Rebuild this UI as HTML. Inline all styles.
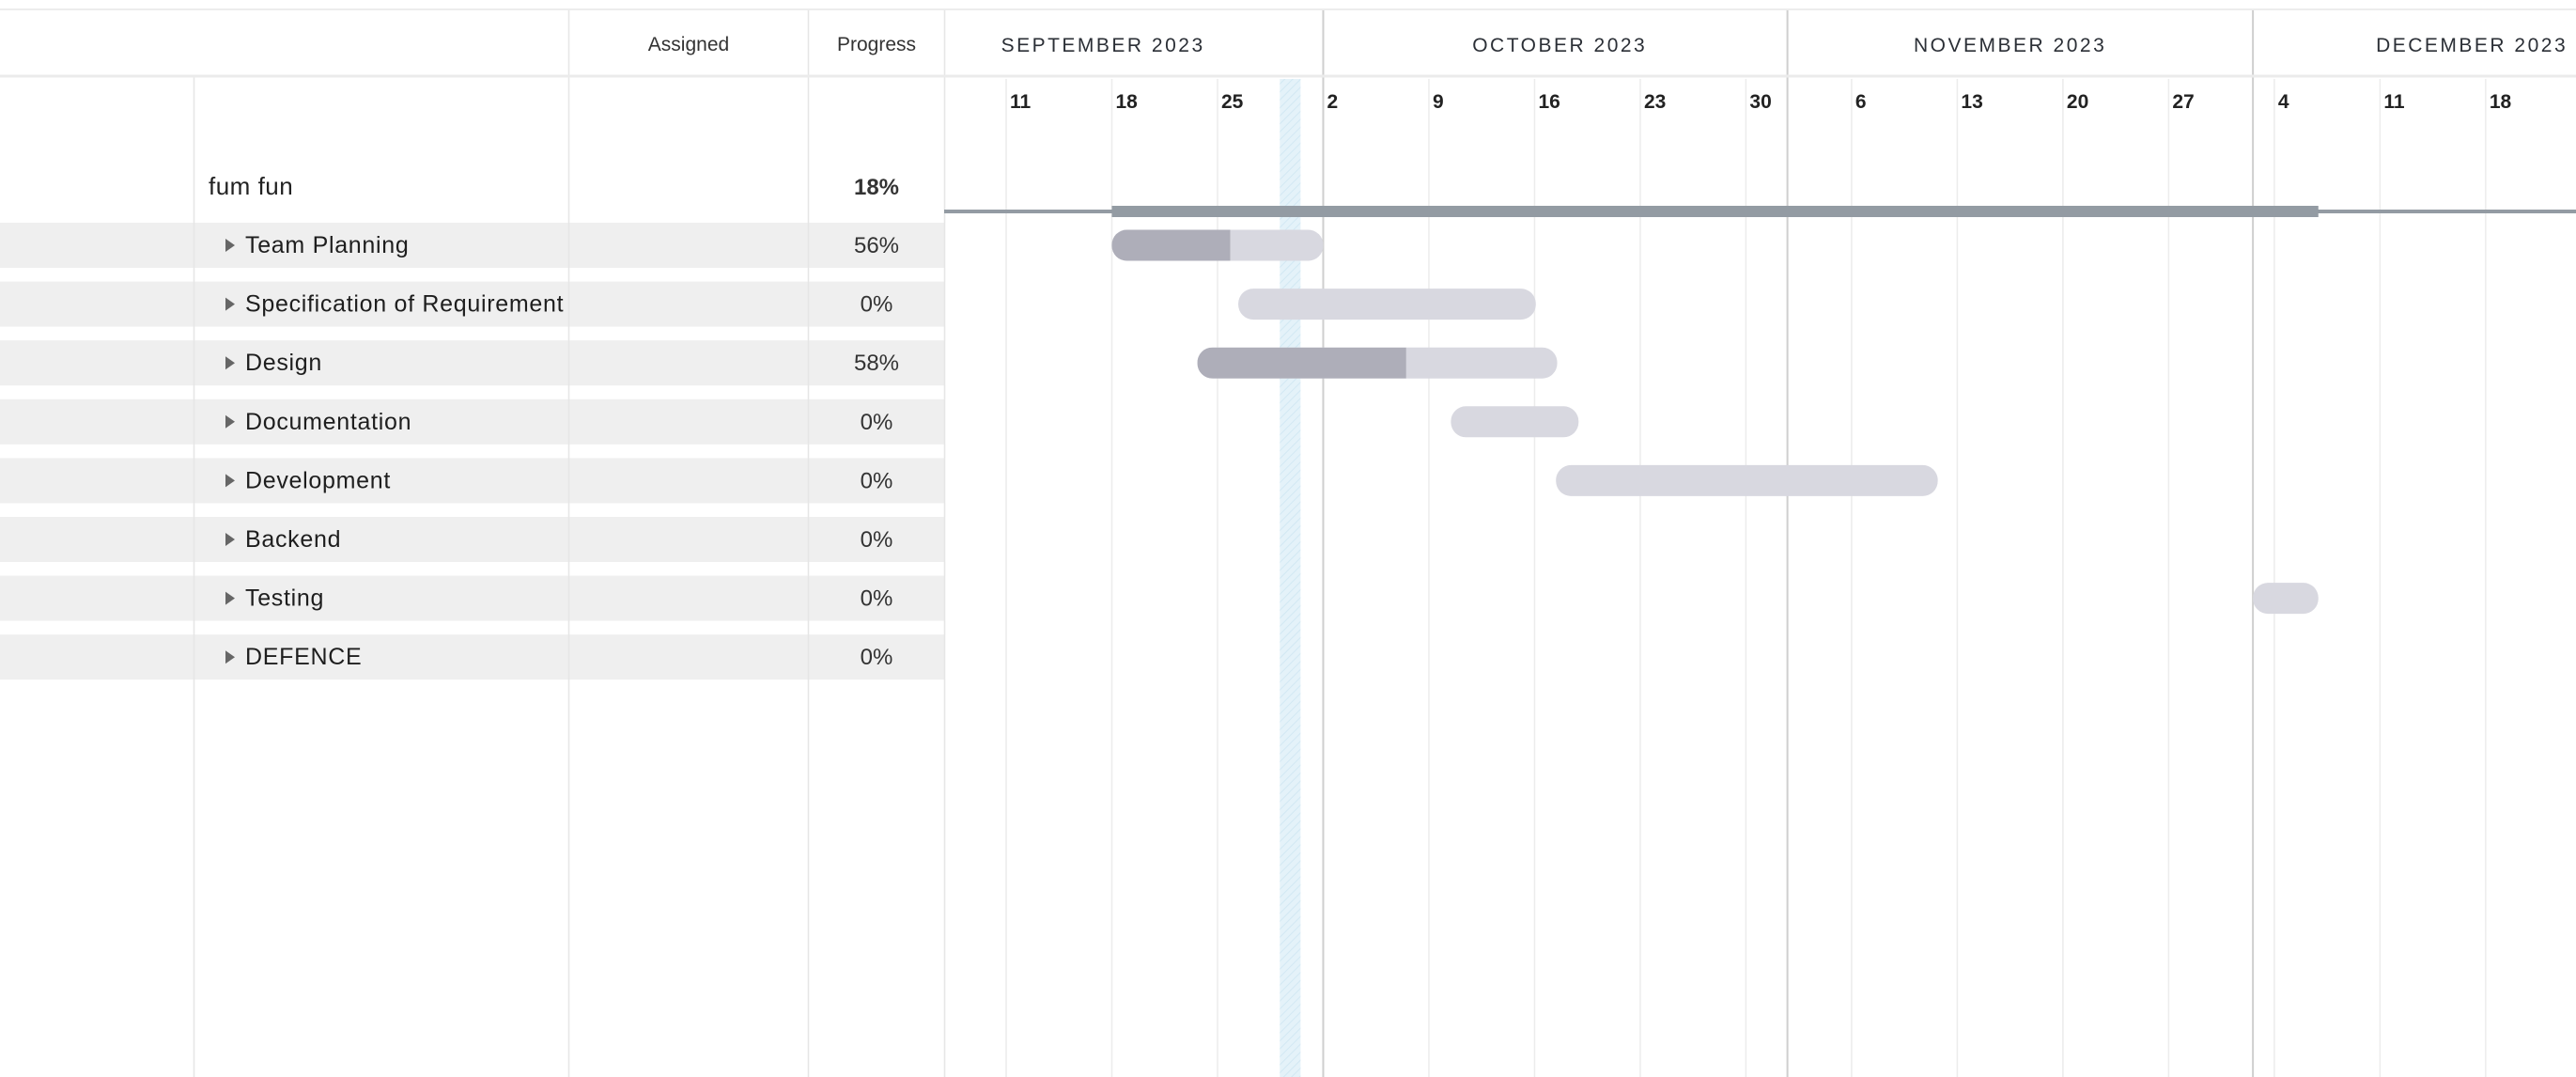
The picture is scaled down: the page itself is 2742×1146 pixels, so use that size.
<!DOCTYPE html>
<html><head><meta charset="utf-8"><style>
html,body{margin:0;padding:0;background:#fff;}
svg{display:block;font-family:"Liberation Sans",sans-serif;}
</style></head><body>
<svg id="g" width="2742" height="1146" viewBox="0 0 2742 1146" xmlns="http://www.w3.org/2000/svg">
<defs>
<pattern id="hatch" width="6" height="6" patternUnits="userSpaceOnUse" patternTransform="rotate(45)">
<rect width="6" height="6" fill="#e4f2f9"/><line x1="0" y1="0" x2="0" y2="6" stroke="#d2e8f3" stroke-width="2"/>
</pattern>
</defs>
<g id="grid"></g>
<g id="table"></g>
<g id="bars"></g>
<g id="hdr"></g>
</svg>
<script>
const taskNames=["Team Planning","Specification of Requirement","Design","Documentation","Development","Backend","Testing","DEFENCE"];
const taskProgress=[56,0,58,0,0,0,0,0];
const taskStart=["2023-09-18T00:00","2023-09-26T09:00","2023-09-23T16:00","2023-10-10T11:00","2023-10-17T10:00",null,"2023-12-02T14:00",null];
const taskEnd=["2023-10-02T00:00","2023-10-16T02:00","2023-10-17T12:00","2023-10-18T22:00","2023-11-11T17:00",null,"2023-12-06T22:00",null];
const projectName="fum fun";
const projectProgress=18;
const projectStart="2023-09-18T00:00";
const projectEnd="2023-12-06T22:00";
const weekDates=["2023-09-11","2023-09-18","2023-09-25","2023-10-02","2023-10-09","2023-10-16","2023-10-23","2023-10-30","2023-11-06","2023-11-13","2023-11-20","2023-11-27","2023-12-04","2023-12-11","2023-12-18"];
const weekLabels=["11","18","25","2","9","16","23","30","6","13","20","27","4","11","18"];
const monthLabels=["SEPTEMBER 2023","OCTOBER 2023","NOVEMBER 2023","DECEMBER 2023"];
const monthLabelDates=["2023-09-17T10:00","2023-10-17T16:00","2023-11-16T12:00","2023-12-17T02:00"];
const monthLineDates=["2023-10-02T00:00","2023-11-01T18:00","2023-12-02T14:00"];
const todayStart="2023-09-29T03:00", todayEnd="2023-09-30T12:00";

const NS="http://www.w3.org/2000/svg";
const X0=1071, DAY=16.07, T0=Date.parse("2023-09-11T00:00");
function xs(d){return X0+(Date.parse(d)-T0)/86400000*DAY;}
function rowY(i){return 261+i*62.6;}
function el(tag,attrs,parent,text){const e=document.createElementNS(NS,tag);for(const k in attrs)e.setAttribute(k,attrs[k]);if(text!=null)e.textContent=text;parent.appendChild(e);return e;}
const grid=document.getElementById('grid'),table=document.getElementById('table'),bars=document.getElementById('bars'),hdr=document.getElementById('hdr');

taskNames.forEach((n,i)=>{const y=rowY(i);
 const r=el('rect',{x:0,y:y-24,width:1005,height:48,fill:'#efefef'},table);
 
 
});
[206,605,860,1005].forEach((x,i)=>{const l=el('line',{x1:x+0.5,x2:x+0.5,y1:i==0?82:10,y2:1146,stroke:'#e6e6e6','stroke-width':1.5},table);
 
 
});
const td=el('rect',{x:xs(todayStart),y:84,width:xs(todayEnd)-xs(todayStart),height:1062,fill:'url(#hatch)'},grid);


weekDates.forEach((d,i)=>{const x=xs(d);
 const l=el('line',{x1:x,x2:x,y1:84,y2:1146,stroke:'#ececec','stroke-width':1.5},grid);
 
 
 const t=el('text',{x:x+4,y:115,'font-size':21,'font-weight':'bold',fill:'#222'},grid,weekLabels[i]);
 
 
});
monthLineDates.forEach(d=>{const x=xs(d);
 const l=el('line',{x1:x,x2:x,y1:10,y2:1146,stroke:'#cfcfcf','stroke-width':2},grid);
 
 
});
const hb=el('line',{x1:0,x2:2742,y1:10,y2:10,stroke:'#ececec','stroke-width':2},hdr);


const hb2=el('line',{x1:0,x2:2742,y1:81,y2:81,stroke:'#ebebeb','stroke-width':3},hdr);


const ha=el('text',{x:733,y:54,'font-size':21,fill:'#333','text-anchor':'middle'},hdr,'Assigned');


const hp=el('text',{x:933,y:54,'font-size':21,fill:'#333','text-anchor':'middle'},hdr,'Progress');


monthLabels.forEach((m,i)=>{const t=el('text',{x:xs(monthLabelDates[i]),y:55,'font-size':21,fill:'#2b2f36','text-anchor':'middle','letter-spacing':2.5},hdr,m);
 
 
});
const pn=el('text',{x:222,y:207,'font-size':26,fill:'#222','letter-spacing':0.5},table,projectName);


const pp=el('text',{x:933,y:207,'font-size':24,'font-weight':'bold',fill:'#333','text-anchor':'middle'},table,projectProgress+'%');


const pl=el('rect',{x:1005,y:223,width:1737,height:4,fill:'#939ba3'},bars);


const pb=el('rect',{x:xs(projectStart),y:219,width:xs(projectEnd)-xs(projectStart),height:12,fill:'#939ba3'},bars);


taskNames.forEach((n,i)=>{const y=rowY(i);
 const tri=el('path',{d:`M240 ${y-7} L250 ${y} L240 ${y+7} Z`,fill:'#666'},table);
 
 
 const t=el('text',{x:261,y:y+8,'font-size':25,fill:'#1e1e1e','letter-spacing':0.7},table,n);
 
 
 const p=el('text',{x:933,y:y+8,'font-size':24,fill:'#333','text-anchor':'middle'},table,taskProgress[i]+'%');
 
 
 if(taskStart[i]){
  const x1=xs(taskStart[i]),x2=xs(taskEnd[i]),w=x2-x1,h=33,by=y-16.5;
  const g=el('g',{},bars);
  
  
  const cp=el('clipPath',{id:'c'+i},g);
  el('rect',{x:x1,y:by,width:w,height:h,rx:16},cp);
  const b=el('rect',{x:x1,y:by,width:w,height:h,rx:16,fill:'#d8d8e0'},g);
  
  
  if(taskProgress[i]>0){
   const f=el('rect',{x:x1,y:by,width:w*taskProgress[i]/100,height:h,fill:'#aeaeb9','clip-path':`url(#c${i})`},g);
   
   
  }
 }
});
</script>
</body></html>
